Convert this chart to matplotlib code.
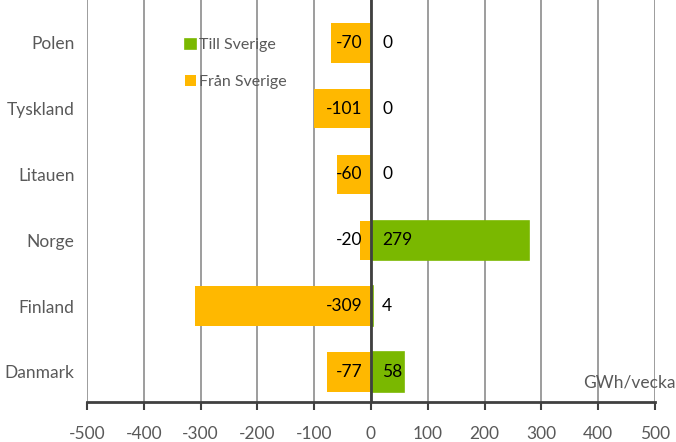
import matplotlib.pyplot as plt

plt.rcParams['font.family'] = ['Lato', 'DejaVu Sans']

# data, bottom to top
countries = ['Danmark', 'Finland', 'Norge', 'Litauen', 'Tyskland', 'Polen']
till_sverige = [58, 4, 279, 0, 0, 0]
fran_sverige = [-77, -309, -20, -60, -101, -70]
xticks = [-500, -400, -300, -200, -100, 0, 100, 200, 300, 400, 500]

green = '#7ab800'
orange = '#ffb800'
grey = '#595959'

fig = plt.figure(figsize=(6.76, 4.42), dpi=100)
ax = fig.add_axes([87 / 676, 40 / 442, 568 / 676, 402 / 442])

pos = range(len(countries))
ax.barh(pos, fran_sverige, height=0.6, color=orange, label='Från Sverige', zorder=3)
ax.barh(pos, till_sverige, height=0.6, color=green, edgecolor=green,
        linewidth=1.2, label='Till Sverige', zorder=3)

# labels
for i, (t, f) in enumerate(zip(till_sverige, fran_sverige)):
    ax.annotate(str(f), (0, i), xytext=(-6, 0), textcoords='offset points',
                ha='right', va='center', fontsize=12.5, color='black', zorder=4)
    ax.annotate(str(t), (0, i), xytext=(8, 0), textcoords='offset points',
                ha='left', va='center', fontsize=12.5, color='black', zorder=4)

ax.set_xlim(-500, 500)
ax.set_ylim(-0.456, 5.65)
ax.set_xticks(xticks)
ax.set_xticklabels([str(x) for x in xticks])
ax.set_yticks(list(pos))
ax.set_yticklabels(countries)

ax.grid(axis='x', color='#8c8c8c', linewidth=1.2, zorder=1)
ax.axvline(0, color='#404040', linewidth=2, zorder=5)
for s in ['top', 'right', 'left']:
    ax.spines[s].set_visible(False)
ax.spines['bottom'].set_color('#404040')
ax.spines['bottom'].set_linewidth(2)
ax.spines['bottom'].set_zorder(6)

ax.tick_params(axis='x', direction='out', length=6, width=1.5, color='#404040',
               labelsize=12.5, labelcolor=grey, pad=11)
ax.tick_params(axis='y', length=0, labelsize=12.5, labelcolor=grey, pad=9)

handles, labels = ax.get_legend_handles_labels()
leg = ax.legend(handles[::-1], labels[::-1], loc='upper left',
                bbox_to_anchor=(0.148, 0.94), frameon=False, fontsize=11.5,
                labelcolor=grey, handlelength=0.65, handleheight=0.65,
                handletextpad=0.2, labelspacing=1.4)

fig.text(676 / 676, 52 / 442, 'GWh/vecka', ha='right', va='bottom',
         fontsize=12.5, color=grey)

fig.savefig('out.png', dpi=100)
